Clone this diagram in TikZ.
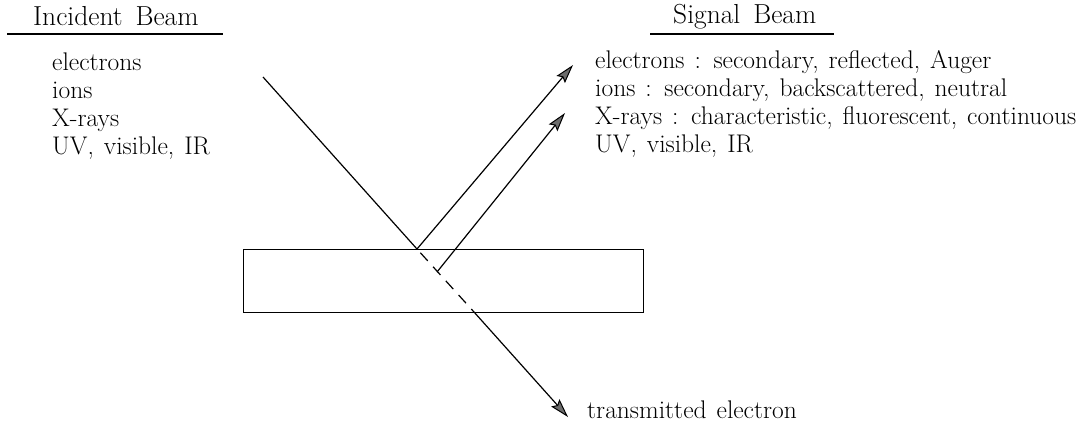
\documentclass[tikz,border=0pt]{standalone}
\usepackage{fontspec}
\usepackage{xcolor}
\usepackage{tikz}
\usetikzlibrary{arrows.meta, positioning}

\newcommand{\bodyfont}{\fontsize{25.5}{30}\selectfont\spaceskip=10pt plus 2pt\relax}
\newcommand{\headfont}{\fontsize{27.5}{32}\selectfont\spaceskip=13pt plus 2pt\relax}

\begin{document}
\begin{tikzpicture}[
    x=1pt, y=-1pt,
    txt/.style={anchor=base west, inner sep=0pt, font=\bodyfont},
    head/.style={anchor=base west, inner sep=0pt, font=\headfont},
    rule/.style={line width=1.3pt},
    beam/.style={line width=1.2pt},
    arrow/.style={beam, -{Stealth[length=19pt, width=11pt, inset=3pt, fill=gray!85!black, line width=1pt]}},
    sample/.style={draw, line width=1.3pt, anchor=north west, inner sep=0pt, minimum width=400pt, minimum height=63pt},
]
\useasboundingbox (0,0) rectangle (1091,424);

\node[head] (inc) at (33,25) {Incident Beam};
\node[head] (sig) at (673,23) {Signal Beam};
\draw[rule] (7,34) -- (223,34);
\draw[rule] (650,34) -- (834,34);

\node[txt] (inE) at (52,70) {electrons};
\node[txt] (inI) at (52,98) {ions};
\node[txt] (inX) at (52,126) {X-rays};
\node[txt] (inU) at (52,154) {UV, visible, IR};

\node[txt] (sgE) at (595,68) {electrons : secondary, reflected, Auger};
\node[txt] (sgI) at (595,96) {ions : secondary, backscattered, neutral};
\node[txt] (sgX) at (595,124) {X-rays : characteristic, fluorescent, continuous};
\node[txt] (sgU) at (595,152) {UV, visible, IR};

\node[sample] (slab) at (243,249) {};

\coordinate (src) at (263,77);
\coordinate (hit) at (417,249);
\coordinate (em1) at (573,65);
\coordinate (deep) at (437,272);
\coordinate (em2) at (565,113);
\coordinate (exit) at (474,312);
\coordinate (tr) at (568,417);

\node[txt] (trE) at (587,418) {transmitted electron};

\draw[beam] (src) -- (hit);
\draw[arrow] (hit) -- (em1);
\draw[arrow] (deep) -- (em2);
\draw[beam, dash pattern=on 11pt off 8pt, dash phase=-5pt] (hit) -- (exit);
\draw[arrow] (exit) -- (tr);
\end{tikzpicture}
\end{document}
